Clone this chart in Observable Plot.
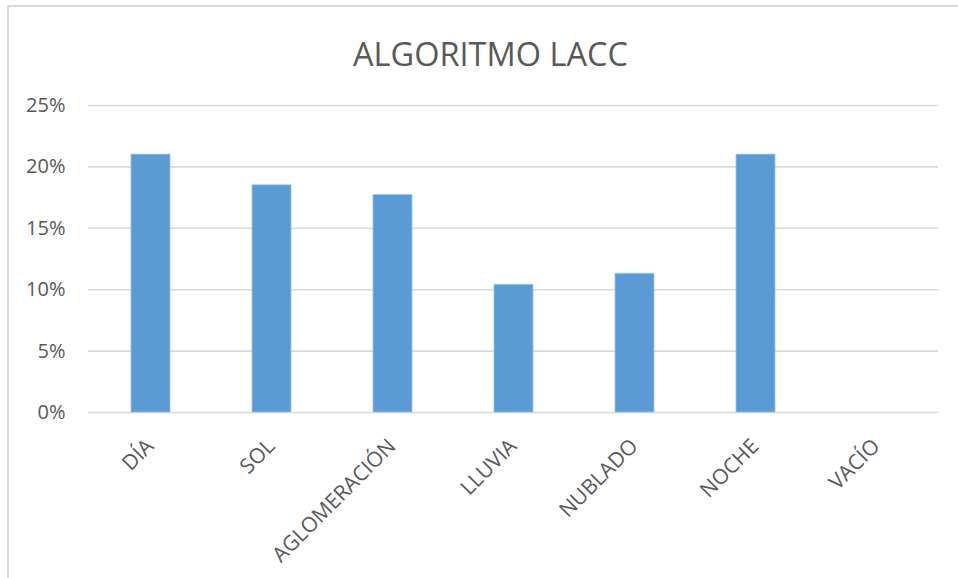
<!DOCTYPE html>
<html>
<head>
<meta charset="utf-8">
<script src="https://cdn.jsdelivr.net/npm/d3@7"></script>
<script src="https://cdn.jsdelivr.net/npm/@observablehq/plot@0.6"></script>
<style>
  html, body { margin: 0; padding: 0; background: #fff; }
  #wrap { position: relative; width: 958px; height: 578px; overflow: hidden; }
  #box {
    position: absolute; left: 7px; top: 5px; width: 980px; height: 600px;
    border-left: 2px solid #d9d9d9; border-top: 2px solid #d9d9d9;
    box-sizing: border-box; pointer-events: none;
  }
  #chart { position: absolute; left: 0; top: 0; }
  svg { font-family: "Open Sans", sans-serif; }
</style>
</head>
<body>
<div id="wrap"><div id="chart"></div><div id="box"></div></div>
<script>
// LACC algorithm: share of cases per scene condition
const categories = ["DÍA", "SOL", "AGLOMERACIÓN", "LLUVIA", "NUBLADO", "NOCHE", "VACÍO"];
const shares = [0.21, 0.185, 0.177, 0.104, 0.113, 0.21, 0];
const yTicks = [0, 0.05, 0.10, 0.15, 0.20, 0.25];
const title = "ALGORITMO LACC";

const data = categories.map((c, i) => ({category: c, share: shares[i]}));
const ink = "#595959";

const chart = Plot.plot({
  width: 958,
  height: 578,
  marginLeft: 88,
  marginRight: 20,
  marginTop: 105,
  marginBottom: 166,
  style: {fontFamily: "'Open Sans', sans-serif", color: ink, background: "transparent"},
  x: {type: "band", domain: categories, paddingInner: 0.68, paddingOuter: 0.34, axis: null},
  y: {domain: [0, 0.25], axis: null},
  marks: [
    Plot.gridY(yTicks, {stroke: "#d9d9d9", strokeOpacity: 1, strokeWidth: 1.6}),
    Plot.axisY(yTicks, {
      label: null, tickSize: 0, tickPadding: 23, tickFormat: d3.format(".0%"),
      fontSize: 20, fill: ink
    }),
    Plot.barY(data, {x: "category", y: "share", fill: "#5b9bd5", stroke: "#9dc3e6", strokeWidth: 0.8}),
    Plot.text(categories, {
      x: d => d, y: 0, text: d => d,
      rotate: -45, textAnchor: "end", lineAnchor: "bottom",
      dx: 4, dy: 35, fontSize: 21, fill: ink
    }),
    Plot.text([title], {
      frameAnchor: "top", text: d => d, dy: -40, dx: -23,
      fontSize: 32.5, fill: ink, lineAnchor: "bottom"
    })
  ]
});
document.getElementById("chart").appendChild(chart);
</script>
</body>
</html>
